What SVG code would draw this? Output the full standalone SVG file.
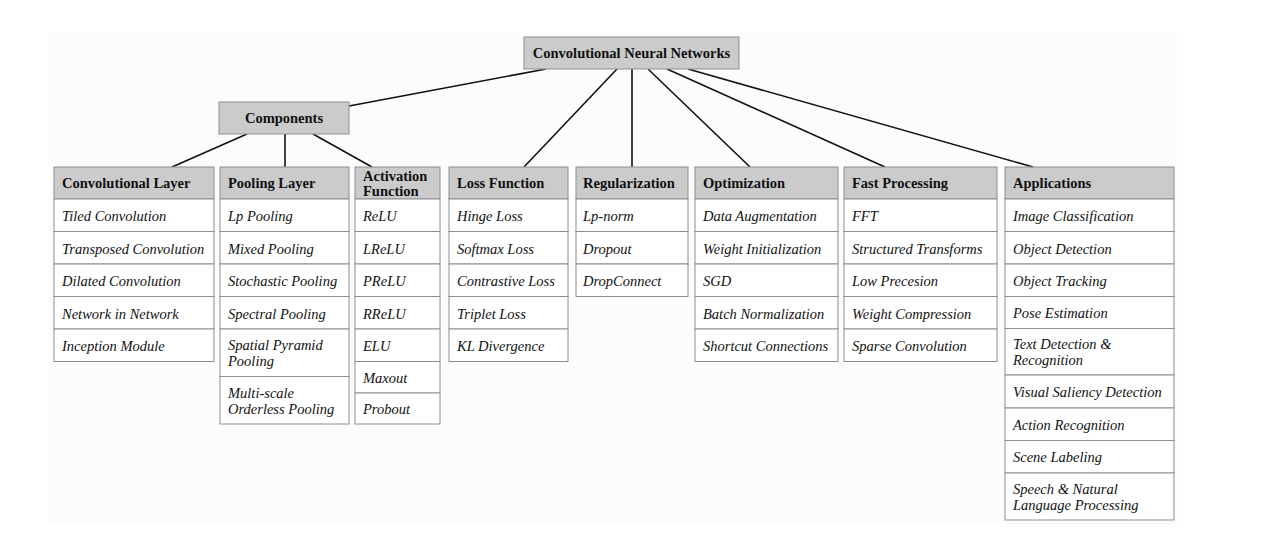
<svg xmlns="http://www.w3.org/2000/svg" width="1263" height="539" viewBox="0 0 1263 539">
<style>
.hd{fill:#cbcbcb;stroke:#8e8e8e;stroke-width:1}
.it{fill:#ffffff;stroke:#8e8e8e;stroke-width:1}
.ht{font-family:"Liberation Serif",serif;font-weight:bold;font-size:14.5px;fill:#111}
.tt{font-family:"Liberation Serif",serif;font-style:italic;font-size:14.5px;fill:#111}
.cn{stroke:#111;stroke-width:1.6;fill:none}
</style>
<rect x="48" y="33" width="1129" height="492" fill="#fcfcfc"/>
<g id="connectors">
<line class="cn" x1="546" y1="69" x2="349" y2="106"/>
<line class="cn" x1="617" y1="69" x2="524" y2="167"/>
<line class="cn" x1="632" y1="69" x2="632" y2="167"/>
<line class="cn" x1="648" y1="69" x2="750" y2="167"/>
<line class="cn" x1="667" y1="69" x2="885" y2="167"/>
<line class="cn" x1="688" y1="69" x2="1033" y2="167"/>
<line class="cn" x1="247" y1="134" x2="172" y2="167"/>
<line class="cn" x1="285" y1="134" x2="285" y2="167"/>
<line class="cn" x1="313" y1="134" x2="372" y2="167"/>
</g>
<g id="cnn">
<rect class="hd" x="524" y="37" width="215" height="32"/>
<text class="ht" x="631.5" y="58" text-anchor="middle">Convolutional Neural Networks</text>
</g>
<g id="components">
<rect class="hd" x="219" y="102" width="130" height="32"/>
<text class="ht" x="284" y="123" text-anchor="middle">Components</text>
</g>
<g id="conv-layer">
<rect class="hd" x="54" y="167" width="160" height="32"/>
<text class="ht" x="62" y="188">Convolutional Layer</text>
<rect class="it" x="54" y="199" width="160" height="32.5"/>
<text class="tt" x="62" y="221">Tiled Convolution</text>
<rect class="it" x="54" y="231.5" width="160" height="32.5"/>
<text class="tt" x="62" y="253.5">Transposed Convolution</text>
<rect class="it" x="54" y="264" width="160" height="32.5"/>
<text class="tt" x="62" y="286">Dilated Convolution</text>
<rect class="it" x="54" y="296.5" width="160" height="32.5"/>
<text class="tt" x="62" y="318.5">Network in Network</text>
<rect class="it" x="54" y="329" width="160" height="32.5"/>
<text class="tt" x="62" y="351">Inception Module</text>
</g>
<g id="pooling-layer">
<rect class="hd" x="220" y="167" width="129" height="32"/>
<text class="ht" x="228" y="188">Pooling Layer</text>
<rect class="it" x="220" y="199" width="129" height="32.5"/>
<text class="tt" x="228" y="221">Lp Pooling</text>
<rect class="it" x="220" y="231.5" width="129" height="32.5"/>
<text class="tt" x="228" y="253.5">Mixed Pooling</text>
<rect class="it" x="220" y="264" width="129" height="32.5"/>
<text class="tt" x="228" y="286">Stochastic Pooling</text>
<rect class="it" x="220" y="296.5" width="129" height="32.5"/>
<text class="tt" x="228" y="318.5">Spectral Pooling</text>
<rect class="it" x="220" y="329" width="129" height="47.5"/>
<text class="tt" x="228" y="350">Spatial Pyramid</text>
<text class="tt" x="228" y="366">Pooling</text>
<rect class="it" x="220" y="376.5" width="129" height="47.5"/>
<text class="tt" x="228" y="397.5">Multi-scale</text>
<text class="tt" x="228" y="413.5">Orderless Pooling</text>
</g>
<g id="activation-function">
<rect class="hd" x="355" y="167" width="85" height="32"/>
<text class="ht" x="363" y="181">Activation</text>
<text class="ht" x="363" y="196">Function</text>
<rect class="it" x="355" y="199" width="85" height="32.5"/>
<text class="tt" x="363" y="221">ReLU</text>
<rect class="it" x="355" y="231.5" width="85" height="32.5"/>
<text class="tt" x="363" y="253.5">LReLU</text>
<rect class="it" x="355" y="264" width="85" height="32.5"/>
<text class="tt" x="363" y="286">PReLU</text>
<rect class="it" x="355" y="296.5" width="85" height="32.5"/>
<text class="tt" x="363" y="318.5">RReLU</text>
<rect class="it" x="355" y="329" width="85" height="32.5"/>
<text class="tt" x="363" y="351">ELU</text>
<rect class="it" x="355" y="361.5" width="85" height="31.5"/>
<text class="tt" x="363" y="383">Maxout</text>
<rect class="it" x="355" y="393" width="85" height="31"/>
<text class="tt" x="363" y="414">Probout</text>
</g>
<g id="loss-function">
<rect class="hd" x="449" y="167" width="119" height="32"/>
<text class="ht" x="457" y="188">Loss Function</text>
<rect class="it" x="449" y="199" width="119" height="32.5"/>
<text class="tt" x="457" y="221">Hinge Loss</text>
<rect class="it" x="449" y="231.5" width="119" height="32.5"/>
<text class="tt" x="457" y="253.5">Softmax Loss</text>
<rect class="it" x="449" y="264" width="119" height="32.5"/>
<text class="tt" x="457" y="286">Contrastive Loss</text>
<rect class="it" x="449" y="296.5" width="119" height="32.5"/>
<text class="tt" x="457" y="318.5">Triplet Loss</text>
<rect class="it" x="449" y="329" width="119" height="32.5"/>
<text class="tt" x="457" y="351">KL Divergence</text>
</g>
<g id="regularization">
<rect class="hd" x="576" y="167" width="112" height="32"/>
<text class="ht" x="583" y="188">Regularization</text>
<rect class="it" x="576" y="199" width="112" height="32.5"/>
<text class="tt" x="583" y="221">Lp-norm</text>
<rect class="it" x="576" y="231.5" width="112" height="32.5"/>
<text class="tt" x="583" y="253.5">Dropout</text>
<rect class="it" x="576" y="264" width="112" height="32.5"/>
<text class="tt" x="583" y="286">DropConnect</text>
</g>
<g id="optimization">
<rect class="hd" x="695" y="167" width="143" height="32"/>
<text class="ht" x="703" y="188">Optimization</text>
<rect class="it" x="695" y="199" width="143" height="32.5"/>
<text class="tt" x="703" y="221">Data Augmentation</text>
<rect class="it" x="695" y="231.5" width="143" height="32.5"/>
<text class="tt" x="703" y="253.5">Weight Initialization</text>
<rect class="it" x="695" y="264" width="143" height="32.5"/>
<text class="tt" x="703" y="286">SGD</text>
<rect class="it" x="695" y="296.5" width="143" height="32.5"/>
<text class="tt" x="703" y="318.5">Batch Normalization</text>
<rect class="it" x="695" y="329" width="143" height="32.5"/>
<text class="tt" x="703" y="351">Shortcut Connections</text>
</g>
<g id="fast-processing">
<rect class="hd" x="844" y="167" width="153" height="32"/>
<text class="ht" x="852" y="188">Fast Processing</text>
<rect class="it" x="844" y="199" width="153" height="32.5"/>
<text class="tt" x="852" y="221">FFT</text>
<rect class="it" x="844" y="231.5" width="153" height="32.5"/>
<text class="tt" x="852" y="253.5">Structured Transforms</text>
<rect class="it" x="844" y="264" width="153" height="32.5"/>
<text class="tt" x="852" y="286">Low Precesion</text>
<rect class="it" x="844" y="296.5" width="153" height="32.5"/>
<text class="tt" x="852" y="318.5">Weight Compression</text>
<rect class="it" x="844" y="329" width="153" height="32.5"/>
<text class="tt" x="852" y="351">Sparse Convolution</text>
</g>
<g id="applications">
<rect class="hd" x="1005" y="167" width="169" height="32"/>
<text class="ht" x="1013" y="188">Applications</text>
<rect class="it" x="1005" y="199" width="169" height="32.5"/>
<text class="tt" x="1013" y="221">Image Classification</text>
<rect class="it" x="1005" y="231.5" width="169" height="32.5"/>
<text class="tt" x="1013" y="253.5">Object Detection</text>
<rect class="it" x="1005" y="264" width="169" height="32.5"/>
<text class="tt" x="1013" y="286">Object Tracking</text>
<rect class="it" x="1005" y="296.5" width="169" height="32"/>
<text class="tt" x="1013" y="318">Pose Estimation</text>
<rect class="it" x="1005" y="328.5" width="169" height="46.5"/>
<text class="tt" x="1013" y="349">Text Detection &amp;</text>
<text class="tt" x="1013" y="365">Recognition</text>
<rect class="it" x="1005" y="375" width="169" height="33"/>
<text class="tt" x="1013" y="397">Visual Saliency Detection</text>
<rect class="it" x="1005" y="408" width="169" height="32.5"/>
<text class="tt" x="1013" y="430">Action Recognition</text>
<rect class="it" x="1005" y="440.5" width="169" height="32.5"/>
<text class="tt" x="1013" y="462">Scene Labeling</text>
<rect class="it" x="1005" y="473" width="169" height="47"/>
<text class="tt" x="1013" y="494">Speech &amp; Natural</text>
<text class="tt" x="1013" y="510">Language Processing</text>
</g>
</svg>
